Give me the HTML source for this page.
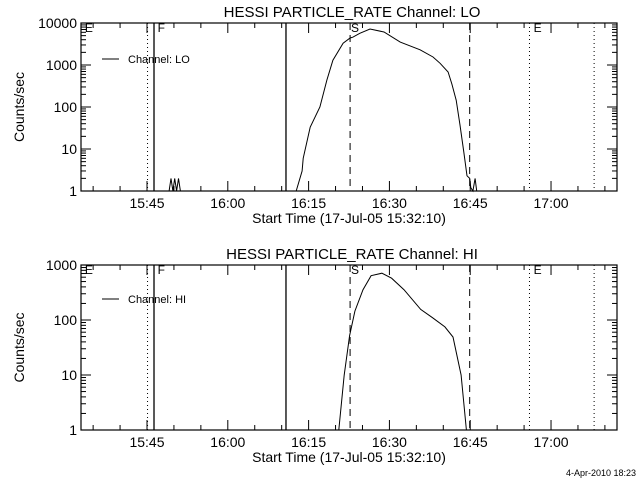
<!DOCTYPE html>
<html><head><meta charset="utf-8"><style>
body{margin:0;background:#fff;}
svg{display:block;font-family:"Liberation Sans",sans-serif;}
text{fill:#000;}
</style></head><body>
<svg id="c" width="640" height="480" viewBox="0 0 640 480"></svg>
<script>
// minutes relative to 15:45
const loTimes=[27.7,28.8,29.0,30.3,32.1,33.4,34.5,36.4,37.7,38.2,39.5,41.4,44.0,47.0,50.7,53.1,54.4,55.9,56.6,57.4,58.1,58.8,59.4,59.9,60.1,60.5,60.9,61.2,61.5];
const loValues=[1,3,6,33,100,440,1300,3300,4400,4600,5700,7200,6100,3500,2300,1550,1100,680,350,145,37,8.5,2.3,2,1.2,1,2,1,1];
const loSpikeTimes=[4.1,4.45,4.8,5.15,5.5,5.85,6.2];
const loSpikeValues=[1,2,1,2,1,2,1];
const hiTimes=[35.6,36.6,37.6,38.6,40.1,41.6,43.6,45.4,47.7,50.8,53.0,55.3,56.8,58.3,59.3];
const hiValues=[1,10,52,145,355,640,710,575,355,156,110,75,49,10,1];
const xTickLabels=["15:45","16:00","16:15","16:30","16:45","17:00"];
const xTickMinutes=[0,15,30,45,60,75];
const solidLines=[1.3,25.8];
const dashedLines=[37.7,59.9];
const dottedLines=[0.1,71.0,83.0];
const markerLabels=[["E",-11.9],["F",1.6],["S",37.5],["E",71.4]];
const loYTicks=["1","10","100","1000","10000"];
const hiYTicks=["1","10","100","1000"];

const svg=document.getElementById('c');
const NS='http://www.w3.org/2000/svg';
function mk(tag,attrs,parent){const e=document.createElementNS(NS,tag);for(const k in attrs)e.setAttribute(k,attrs[k]);(parent||svg).appendChild(e);return e;}
const X0=81,X1=617,PX=5.387,XREF=147;
const xs=m=>XREF+m*PX;
const tMin=(X0-XREF)/PX,tMax=(X1-XREF)/PX;

function panel(cfg){
  const g=mk('g',{});
  
  
  const {top,bot,dec}=cfg;
  const ys=v=>bot-Math.log10(Math.max(v,1))*(bot-top)/dec;
  const t=mk('text',{x:352,y:top-6,'text-anchor':'middle','font-size':15},g);t.textContent=cfg.title;
  
  const box=mk('rect',{x:X0,y:top,width:X1-X0,height:bot-top,fill:'none',stroke:'#000','stroke-width':1.2},g);
  
  // x ticks every 5 min
  for(let m=Math.ceil(tMin/5)*5;m<=tMax;m+=5){
    const x=xs(m),L=(m%15===0)?10:5;
    mk('line',{x1:x,x2:x,y1:bot,y2:bot-L,stroke:'#000'},g);
    mk('line',{x1:x,x2:x,y1:top,y2:top+L,stroke:'#000'},g);
  }
  xTickLabels.forEach((s,i)=>{const tx=mk('text',{x:xs(xTickMinutes[i]),y:bot+17,'text-anchor':'middle','font-size':14},g);tx.textContent=s;
    });
  const xl=mk('text',{x:349,y:bot+32,'text-anchor':'middle','font-size':14},g);xl.textContent='Start Time (17-Jul-05 15:32:10)';
  
  // y ticks
  for(let d=0;d<=dec;d++){
    const y=ys(Math.pow(10,d));
    mk('line',{x1:X0,x2:X0+10,y1:y,y2:y,stroke:'#000'},g);
    mk('line',{x1:X1,x2:X1-10,y1:y,y2:y,stroke:'#000'},g);
    if(d<dec)for(let k=2;k<10;k++){const yy=ys(k*Math.pow(10,d));
      mk('line',{x1:X0,x2:X0+5,y1:yy,y2:yy,stroke:'#000'},g);
      mk('line',{x1:X1,x2:X1-5,y1:yy,y2:yy,stroke:'#000'},g);}
    const ty=mk('text',{x:77,y:y+5,'text-anchor':'end','font-size':14},g);ty.textContent=cfg.ticks[d];
    
  }
  const cy=(top+bot)/2;
  const yl=mk('text',{x:24,y:cy,'text-anchor':'middle','font-size':14,transform:`rotate(-90 24 ${cy})`},g);yl.textContent='Counts/sec';
  
  // vertical marker lines
  solidLines.forEach(m=>{const l=mk('line',{x1:xs(m),x2:xs(m),y1:top,y2:bot,stroke:'#000','stroke-width':1.3},g);});
  dashedLines.forEach(m=>{const l=mk('line',{x1:xs(m),x2:xs(m),y1:top,y2:bot,stroke:'#000','stroke-dasharray':'7,5'},g);});
  dottedLines.forEach(m=>{const l=mk('line',{x1:xs(m),x2:xs(m),y1:top,y2:bot,stroke:'#000','stroke-dasharray':'1,3'},g);});
  markerLabels.forEach(([s,m])=>{const tt=mk('text',{x:xs(m)+2,y:top+9,'font-size':12},g);tt.textContent=s;
    });
  // legend
  mk('line',{x1:102,x2:119,y1:cfg.legY,y2:cfg.legY,stroke:'#000'},g);
  const lt=mk('text',{x:128,y:cfg.legY+4,'font-size':11},g);lt.textContent=cfg.legend;
  
  // series
  cfg.series.forEach(([ts,vs])=>{
    const p=mk('polyline',{points:ts.map((m,i)=>xs(m).toFixed(1)+','+ys(vs[i]).toFixed(1)).join(' '),fill:'none',stroke:'#000','stroke-width':1},g);
    
  });
}
panel({name:'lo-channel-panel',top:23,bot:191,dec:4,ticks:loYTicks,title:'HESSI PARTICLE_RATE Channel: LO',legend:'Channel: LO',legY:59,
  series:[[loTimes,loValues],[loSpikeTimes,loSpikeValues]]});
panel({name:'hi-channel-panel',top:265,bot:430,dec:3,ticks:hiYTicks,title:'HESSI PARTICLE_RATE Channel: HI',legend:'Channel: HI',legY:299,
  series:[[hiTimes,hiValues]]});
const d=mk('text',{x:636,y:476,'text-anchor':'end','font-size':9});d.textContent='4-Apr-2010 18:23';

</script>
</body></html>
